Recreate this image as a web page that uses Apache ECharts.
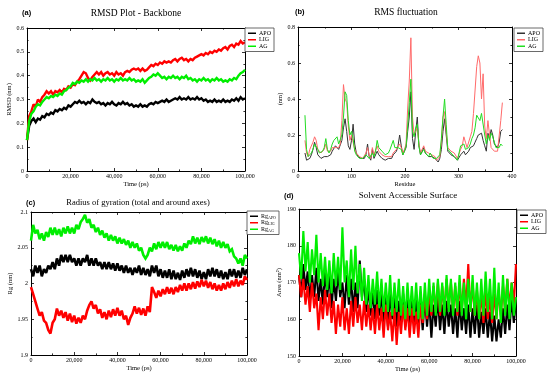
<!DOCTYPE html>
<html><head><meta charset="utf-8">
<script src="https://cdn.jsdelivr.net/npm/echarts@6/dist/echarts.min.js"></script>
<style>html,body{margin:0;padding:0;background:#fff}#c{width:550px;height:376px}</style>
</head><body><div id="c"></div>
<script>
// ---------- DATA ----------
const seriesNames = ['APO', 'LIG', 'AG'];
const timeStepPs = 1000; // sampling interval of time series (ps)

// (a) RMSD backbone (nm)
const rmsdApo = [0.13,0.19,0.21,0.22,0.205,0.22,0.215,0.23,0.225,0.24,0.235,0.245,0.24,0.255,0.25,0.26,0.255,0.265,0.26,0.275,0.27,0.28,0.29,0.285,0.295,0.285,0.29,0.28,0.29,0.285,0.3,0.29,0.285,0.29,0.28,0.285,0.275,0.285,0.28,0.29,0.28,0.275,0.285,0.28,0.29,0.28,0.285,0.275,0.28,0.27,0.275,0.27,0.28,0.27,0.275,0.27,0.28,0.285,0.28,0.29,0.285,0.29,0.295,0.29,0.3,0.29,0.295,0.3,0.305,0.3,0.31,0.3,0.305,0.3,0.31,0.3,0.305,0.3,0.31,0.3,0.305,0.295,0.3,0.29,0.295,0.29,0.3,0.29,0.295,0.29,0.3,0.29,0.295,0.29,0.3,0.295,0.305,0.295,0.31,0.3,0.305];
const rmsdLig = [0.13,0.23,0.25,0.28,0.27,0.3,0.29,0.31,0.32,0.335,0.325,0.335,0.32,0.335,0.33,0.34,0.33,0.345,0.34,0.355,0.35,0.365,0.36,0.375,0.385,0.4,0.415,0.41,0.39,0.38,0.395,0.405,0.415,0.405,0.415,0.4,0.41,0.415,0.405,0.41,0.4,0.415,0.405,0.41,0.4,0.415,0.42,0.415,0.425,0.43,0.425,0.43,0.42,0.43,0.42,0.425,0.435,0.445,0.44,0.45,0.445,0.455,0.45,0.46,0.455,0.46,0.455,0.465,0.47,0.46,0.47,0.475,0.465,0.47,0.46,0.47,0.465,0.475,0.48,0.485,0.49,0.485,0.495,0.49,0.5,0.495,0.505,0.5,0.51,0.505,0.515,0.52,0.51,0.525,0.53,0.52,0.535,0.53,0.545,0.535,0.54];
const rmsdAg = [0.13,0.21,0.24,0.25,0.27,0.28,0.275,0.29,0.3,0.31,0.305,0.315,0.31,0.32,0.315,0.325,0.32,0.335,0.34,0.35,0.355,0.37,0.365,0.375,0.37,0.38,0.375,0.385,0.375,0.385,0.38,0.39,0.38,0.385,0.375,0.385,0.38,0.39,0.38,0.385,0.375,0.385,0.38,0.39,0.38,0.385,0.38,0.39,0.38,0.385,0.375,0.38,0.375,0.385,0.37,0.38,0.39,0.395,0.405,0.4,0.41,0.4,0.39,0.395,0.385,0.395,0.39,0.4,0.39,0.395,0.385,0.395,0.39,0.4,0.385,0.39,0.38,0.385,0.375,0.385,0.38,0.39,0.38,0.385,0.375,0.385,0.38,0.39,0.38,0.385,0.375,0.38,0.375,0.385,0.38,0.39,0.385,0.4,0.41,0.415,0.425];

// (b) RMSF per residue (nm)
const residueStart = 13, residueStep = 3;
const rmsfApo = [0.10,0.06,0.06,0.07,0.09,0.12,0.16,0.13,0.09,0.08,0.07,0.07,0.08,0.09,0.08,0.07,0.09,0.11,0.12,0.14,0.15,0.12,0.13,0.17,0.24,0.29,0.22,0.14,0.12,0.17,0.26,0.15,0.10,0.08,0.07,0.07,0.06,0.07,0.09,0.15,0.08,0.06,0.12,0.07,0.08,0.11,0.09,0.08,0.07,0.08,0.06,0.06,0.07,0.08,0.07,0.09,0.10,0.11,0.14,0.20,0.14,0.09,0.11,0.13,0.22,0.30,0.44,0.18,0.12,0.22,0.30,0.14,0.09,0.10,0.13,0.10,0.09,0.08,0.09,0.08,0.07,0.07,0.06,0.05,0.07,0.12,0.22,0.29,0.20,0.11,0.10,0.09,0.08,0.08,0.07,0.06,0.06,0.09,0.10,0.11,0.09,0.10,0.11,0.13,0.12,0.14,0.16,0.18,0.20,0.19,0.21,0.17,0.14,0.11,0.21,0.18,0.23,0.20,0.15,0.14,0.13,0.16,0.22,0.23];
const rmsfLig = [0.17,0.10,0.08,0.12,0.12,0.16,0.19,0.17,0.12,0.11,0.10,0.10,0.12,0.15,0.11,0.10,0.11,0.13,0.12,0.13,0.14,0.13,0.15,0.28,0.48,0.40,0.38,0.25,0.17,0.20,0.19,0.12,0.10,0.09,0.08,0.07,0.07,0.08,0.10,0.13,0.09,0.07,0.13,0.09,0.10,0.14,0.11,0.10,0.09,0.09,0.08,0.07,0.08,0.09,0.08,0.10,0.11,0.12,0.13,0.15,0.13,0.10,0.12,0.15,0.35,0.50,0.74,0.30,0.20,0.21,0.24,0.15,0.10,0.11,0.14,0.11,0.10,0.10,0.10,0.09,0.08,0.08,0.06,0.05,0.08,0.16,0.30,0.33,0.22,0.13,0.12,0.11,0.10,0.10,0.09,0.07,0.07,0.12,0.14,0.19,0.16,0.13,0.14,0.19,0.22,0.32,0.45,0.58,0.64,0.60,0.40,0.54,0.25,0.18,0.28,0.20,0.13,0.12,0.11,0.10,0.11,0.12,0.28,0.38];
const rmsfAg = [0.31,0.12,0.08,0.09,0.10,0.12,0.15,0.16,0.12,0.10,0.09,0.11,0.13,0.18,0.12,0.10,0.12,0.15,0.17,0.16,0.19,0.15,0.14,0.20,0.30,0.44,0.42,0.28,0.20,0.22,0.18,0.11,0.09,0.08,0.07,0.07,0.07,0.08,0.09,0.10,0.07,0.08,0.10,0.08,0.11,0.17,0.13,0.12,0.11,0.10,0.09,0.08,0.10,0.12,0.12,0.17,0.13,0.12,0.13,0.14,0.12,0.09,0.11,0.14,0.25,0.38,0.51,0.22,0.19,0.24,0.26,0.14,0.09,0.10,0.12,0.10,0.09,0.08,0.10,0.09,0.07,0.08,0.07,0.06,0.09,0.18,0.30,0.40,0.26,0.12,0.11,0.10,0.09,0.08,0.08,0.06,0.07,0.14,0.13,0.15,0.12,0.12,0.13,0.15,0.18,0.20,0.24,0.31,0.32,0.28,0.32,0.33,0.20,0.15,0.20,0.17,0.21,0.19,0.16,0.13,0.14,0.13,0.15,0.14];

// (c) Radius of gyration (nm)
const rgApo = [2.02,2.01,2.025,2.015,2.025,2.01,2.02,2.015,2.025,2.02,2.03,2.02,2.035,2.025,2.04,2.03,2.04,2.03,2.04,2.03,2.035,2.025,2.035,2.025,2.035,2.03,2.04,2.025,2.035,2.025,2.035,2.025,2.03,2.02,2.03,2.02,2.03,2.02,2.028,2.018,2.028,2.018,2.025,2.015,2.025,2.015,2.022,2.012,2.022,2.015,2.025,2.012,2.022,2.012,2.02,2.01,2.025,2.015,2.025,2.01,2.02,2.008,2.018,2.008,2.02,2.006,2.018,2.006,2.015,2.005,2.018,2.008,2.02,2.01,2.022,2.01,2.02,2.008,2.018,2.006,2.016,2.006,2.02,2.01,2.022,2.01,2.02,2.008,2.018,2.006,2.016,2.006,2.02,2.01,2.02,2.008,2.018,2.008,2.022,2.012,2.02];
const rgLig = [1.995,1.985,1.975,1.965,1.955,1.96,1.948,1.945,1.935,1.93,1.945,1.95,1.965,1.955,1.962,1.952,1.96,1.948,1.958,1.946,1.955,1.944,1.952,1.945,1.955,1.95,1.962,1.97,1.975,1.965,1.97,1.958,1.964,1.952,1.96,1.95,1.962,1.953,1.964,1.955,1.966,1.955,1.962,1.95,1.955,1.942,1.952,1.958,1.968,1.958,1.966,1.956,1.965,1.955,1.968,1.96,1.995,1.988,1.98,1.99,1.982,1.992,1.985,1.995,1.986,1.994,1.985,1.995,1.988,1.998,1.99,2.0,1.99,2.0,1.992,2.002,1.993,2.003,1.995,2.005,1.996,2.004,1.994,2.002,1.992,2.0,1.99,1.998,1.99,2.0,1.992,2.002,1.994,2.004,1.996,2.006,1.996,2.004,1.998,2.01,2.005];
const rgAg = [2.06,2.082,2.07,2.075,2.062,2.07,2.06,2.072,2.065,2.078,2.068,2.078,2.068,2.076,2.066,2.078,2.07,2.08,2.07,2.078,2.07,2.082,2.076,2.086,2.09,2.096,2.085,2.09,2.078,2.082,2.072,2.078,2.068,2.074,2.064,2.07,2.06,2.068,2.06,2.066,2.056,2.064,2.056,2.062,2.054,2.06,2.05,2.058,2.05,2.056,2.046,2.05,2.04,2.035,2.04,2.05,2.045,2.056,2.048,2.058,2.05,2.058,2.05,2.058,2.048,2.054,2.046,2.054,2.045,2.052,2.046,2.056,2.05,2.06,2.055,2.066,2.056,2.064,2.055,2.065,2.058,2.066,2.056,2.064,2.055,2.062,2.052,2.06,2.05,2.058,2.05,2.055,2.045,2.048,2.038,2.035,2.028,2.035,2.025,2.04,2.035];

// (d) Solvent accessible surface (nm^2)
const sasaApo = [172,166,175,168,173,165,172,166,174,165,171,164,173,166,172,163,171,165,173,166,170,163,172,164,171,162,170,163,176,166,171,162,169,161,168,160,168,161,167,159,166,158,167,160,166,158,165,159,167,158,166,157,165,159,166,158,165,157,166,158,165,155,164,158,166,157,164,156,165,158,164,156,163,155,165,157,163,156,164,155,163,156,164,155,162,156,163,155,162,154,161,154,160,155,163,156,164,157,166,159,165];
const sasaLig = [172,166,171,164,169,162,170,163,167,157,166,160,168,161,167,159,165,156,164,158,166,157,163,156,165,158,166,159,164,157,165,158,164,157,163,156,164,157,163,155,164,157,162,154,163,153,162,156,164,157,163,155,163,156,162,155,164,159,167,160,168,161,169,162,170,161,169,162,171,163,170,162,169,161,170,162,171,163,175,162,170,161,168,160,167,159,168,160,166,159,167,160,168,161,169,162,171,163,170,164,175];
const sasaAg = [178,171,184,173,181,170,179,172,183,170,178,169,177,168,176,167,178,169,177,168,185,170,176,166,179,168,180,167,175,165,174,164,172,163,171,164,173,163,171,162,170,162,172,161,170,162,171,161,169,160,170,161,169,161,170,160,169,160,170,161,171,162,170,161,171,162,170,161,172,162,171,161,170,162,172,161,170,160,171,162,172,161,170,160,171,161,173,162,171,160,174,160,170,159,172,161,171,160,170,161,166];

// ---------- CHART ----------
const FONT = "'Liberation Serif','Times New Roman',serif";
const SANS = "'Liberation Sans',Arial,sans-serif";
const timeXY = vals => vals.map((v, i) => [i * timeStepPs, v]);
const resXY = vals => vals.map((v, i) => [residueStart + i * residueStep, v]);
const commaFmt = v => Number(v).toLocaleString('en-US');
const decFmt = v => String(+Number(v).toFixed(3));

const grids = [
  {left: 27, top: 28, width: 218, height: 143},
  {left: 298, top: 27, width: 214, height: 144},
  {left: 31, top: 212, width: 216, height: 143},
  {left: 299, top: 209, width: 217, height: 147}
];
const axisCfg = [
  {xmin: 0, xmax: 100000, xint: 20000, ymin: 0, ymax: 0.6, yint: 0.1, xname: 'Time (ps)', yname: 'RMSD (nm)', xfmt: commaFmt, yfmt: decFmt},
  {xmin: 0, xmax: 400, xint: 100, ymin: 0, ymax: 0.8, yint: 0.2, xname: 'Residue', yname: '(nm)', xfmt: commaFmt, yfmt: decFmt},
  {xmin: 0, xmax: 100000, xint: 20000, ymin: 1.9, ymax: 2.1, yint: 0.05, xname: 'Time (ps)', yname: 'Rg (nm)', xfmt: commaFmt, yfmt: decFmt},
  {xmin: 0, xmax: 100000, xint: 20000, ymin: 150, ymax: 190, yint: 10, xname: 'Time (ps)', yname: 'Area (nm\u00B2)', xfmt: commaFmt, yfmt: decFmt}
];
const xAxis = [], yAxis = [];
axisCfg.forEach((c, g) => {
  const line = {show: true, onZero: false, lineStyle: {color: '#000', width: 1}};
  const tick = {show: true, inside: true, length: 3, lineStyle: {color: '#000', width: 0.8}};
  const minor = {show: true, splitNumber: 2, length: 1.6, lineStyle: {color: '#000', width: 0.8}};
  const nameStyle = {fontFamily: FONT, fontSize: 6.5, color: '#000'};
  xAxis.push({type: 'value', gridIndex: g, position: 'bottom', min: c.xmin, max: c.xmax, interval: c.xint,
    name: c.xname, nameLocation: 'middle', nameGap: 10, nameTextStyle: nameStyle,
    axisLine: line, axisTick: tick, minorTick: minor, splitLine: {show: false},
    axisLabel: {fontFamily: FONT, fontSize: 6, color: '#000', margin: 2.5, formatter: c.xfmt, hideOverlap: false}});
  xAxis.push({type: 'value', gridIndex: g, position: 'top', min: c.xmin, max: c.xmax, interval: c.xint,
    axisLine: line, axisTick: tick, minorTick: minor, splitLine: {show: false}, axisLabel: {show: false}});
  yAxis.push({type: 'value', gridIndex: g, position: 'left', min: c.ymin, max: c.ymax, interval: c.yint,
    name: c.yname, nameLocation: 'middle', nameGap: 13, nameRotate: 90, nameTextStyle: nameStyle,
    axisLine: line, axisTick: tick, minorTick: minor, splitLine: {show: false},
    axisLabel: {fontFamily: FONT, fontSize: 6, color: '#000', margin: 3, formatter: c.yfmt}});
  yAxis.push({type: 'value', gridIndex: g, position: 'right', min: c.ymin, max: c.ymax, interval: c.yint,
    axisLine: line, axisTick: tick, minorTick: minor, splitLine: {show: false}, axisLabel: {show: false}});
});

const strongColors = ['#000000', '#ff0000', '#00ee00'];
const lightColors = ['#333333', '#ff6a6a', '#22dd22'];
const panels = [
  {data: [rmsdApo, rmsdLig, rmsdAg], xy: timeXY, colors: strongColors, w: 2.4},
  {data: [rmsfApo, rmsfLig, rmsfAg], xy: resXY, colors: lightColors, w: 1},
  {data: [rgApo, rgLig, rgAg], xy: timeXY, colors: strongColors, w: 2.6},
  {data: [sasaApo, sasaLig, sasaAg], xy: timeXY, colors: strongColors, w: 2.1}
];
const series = [];
panels.forEach((p, g) => {
  p.data.forEach((vals, k) => {
    series.push({type: 'line', name: seriesNames[k] + '#' + g, xAxisIndex: 2 * g, yAxisIndex: 2 * g,
      data: p.xy(vals), showSymbol: false, symbol: 'none', silent: true, animation: false,
      lineStyle: {color: p.colors[k], width: p.w, join: 'miter', miterLimit: 2}, itemStyle: {color: p.colors[k]}, z: 2 + k});
  });
});

const legendPos = [{left: 245, top: 28}, {left: 514, top: 28}, {left: 247, top: 211}, {left: 517, top: 210}];
const legends = legendPos.map((pos, g) => ({
  left: pos.left, top: pos.top, orient: 'vertical', itemGap: 0, itemWidth: 8, itemHeight: 1.5,
  icon: 'rect', padding: [2, 3, 2, 3], borderColor: '#444', borderWidth: 0.8, backgroundColor: '#fff',
  data: seriesNames.map(n => n + '#' + g), selectedMode: false,
  formatter: name => {
    const n = name.split('#')[0];
    return g === 2 ? 'Rg{s|' + n + '}' : n;
  },
  textStyle: {fontFamily: FONT, fontSize: 6, color: '#000', padding: [0, 0, 0, -2], lineHeight: 6.5,
    rich: {s: {fontFamily: FONT, fontSize: 4, color: '#000', verticalAlign: 'bottom', padding: [3, 0, 0, 0]}}}
}));

const txt = (x, y, text, size, font, weight) => ({type: 'text', x: x, y: y, silent: true,
  style: {text: text, fill: '#000', font: (weight || 'normal') + ' ' + size + 'px ' + font,
    textAlign: weight === 'bold' ? 'left' : 'center', textVerticalAlign: 'middle',
    align: weight === 'bold' ? 'left' : 'center', verticalAlign: 'middle'}});
const graphics = [
  txt(22, 13, '(a)', 7.5, SANS, 'bold'),
  txt(136, 13, 'RMSD Plot - Backbone', 9.5, FONT),
  txt(295, 12, '(b)', 7.5, SANS, 'bold'),
  txt(406, 12, 'RMS fluctuation', 9.5, FONT),
  txt(26, 203, '(c)', 7.5, SANS, 'bold'),
  txt(138, 203, 'Radius of gyration (total and around axes)', 8.5, FONT),
  txt(284, 196, '(d)', 7.5, SANS, 'bold'),
  txt(408, 196, 'Solvent Accessible Surface', 9, FONT)
];

const chart = echarts.init(document.getElementById('c'), null, {renderer: 'canvas'});
chart.setOption({
  animation: false, backgroundColor: '#fff',
  grid: grids, xAxis: xAxis, yAxis: yAxis, series: series, legend: legends,
  graphic: graphics
});
</script></body></html>
